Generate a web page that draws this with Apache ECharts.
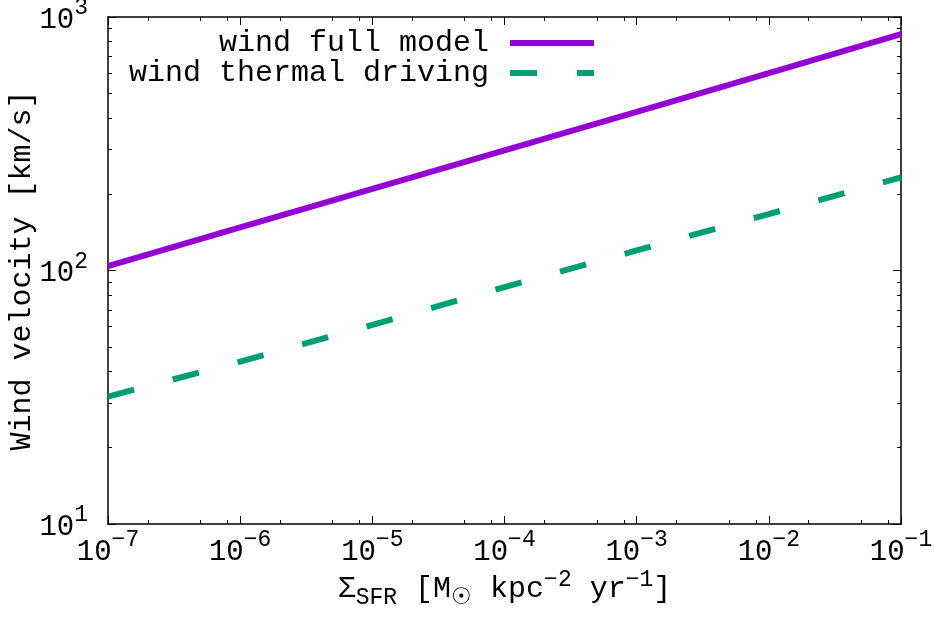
<!DOCTYPE html>
<html>
<head>
<meta charset="utf-8">
<script src="https://cdn.jsdelivr.net/npm/echarts@6/dist/echarts.min.js"></script>
<style>
html, body { margin: 0; padding: 0; background: #fff; }
#main { width: 934px; height: 625px; }
</style>
</head>
<body>
<div id="main"></div>
<script>
// data
var sfr = [1e-7, 1e-6, 1e-5, 1e-4, 1e-3, 1e-2, 1e-1];
var windFull = [104, 148, 210, 298, 422, 600, 855];
var windThermal = [31.8, 43.7, 61, 86, 120, 167, 233];
var seriesNames = ['wind full model', 'wind thermal driving'];

// tick values
var xMinorTicks = [2e-7, 5e-7, 8e-7, 2e-6, 5e-6, 8e-6, 2e-5, 5e-5, 8e-5,
                   2e-4, 5e-4, 8e-4, 2e-3, 5e-3, 8e-3, 2e-2, 5e-2, 8e-2];
var yMinorTicks = [20, 30, 40, 50, 60, 70, 80, 90, 200, 300, 400, 500, 600, 700, 800, 900];
var xRange = [1e-7, 1e-1];
var yRange = [10, 1000];

var FONT = 'Liberation Mono';
var black = '#000';

var powRich = {
    b: { fontFamily: FONT, fontSize: 29, lineHeight: 30, padding: [6, 0, 0, 0], color: black, verticalAlign: 'middle' },
    s: { fontFamily: FONT, fontSize: 23, lineHeight: 30, padding: [0, 0, 18, 0], color: black, verticalAlign: 'middle' }
};

var nameRich = {
    b: { fontFamily: FONT, fontSize: 30, lineHeight: 30, padding: [9, 0, 9, 0], color: black, verticalAlign: 'middle' },
    sup: { fontFamily: FONT, fontSize: 23, lineHeight: 30, padding: [0, 0, 18, 0], color: black, verticalAlign: 'middle' },
    sub: { fontFamily: FONT, fontSize: 23, lineHeight: 30, padding: [18, 0, 0, 0], color: black, verticalAlign: 'middle' }
};

function powerLabel(value) {
    var e = Math.round(Math.log10(value));
    return '{b|10}{s|' + String(e).replace('-', '\u2212') + '}';
}

function logPairs(ys) {
    return sfr.map(function (x, i) { return [x, ys[i]]; });
}

// main log axis: frame line, major ticks, labels
function majorAxis(position, range, extra) {
    var ax = {
        type: 'log',
        position: position,
        min: range[0],
        max: range[1],
        splitNumber: 6,
        axisLine: { show: true, lineStyle: { color: black, width: 1.5 } },
        axisTick: { show: true, inside: true, length: 8, lineStyle: { color: black, width: 1 } },
        axisLabel: { show: false },
        splitLine: { show: false },
        minorTick: { show: false }
    };
    return Object.assign(ax, extra || {});
}

// overlay value axis in log10 space carrying only the short minor ticks
function minorAxis(position, range, ticks) {
    return {
        type: 'value',
        position: position,
        min: Math.log10(range[0]),
        max: Math.log10(range[1]),
        axisLine: { show: false },
        axisTick: { show: true, inside: true, length: 4, lineStyle: { color: black, width: 1 },
                    customValues: ticks.map(function (v) { return Math.log10(v); }) },
        axisLabel: { show: false },
        splitLine: { show: false }
    };
}

var myChart = echarts.init(document.getElementById('main'));

var option = {
    animation: false,
    backgroundColor: '#fff',
    grid: { left: 108, right: 33, top: 17, bottom: 101, containLabel: false, outerBoundsMode: 'none' },
    legend: {
        data: seriesNames,
        orient: 'vertical',
        align: 'right',
        right: 337,
        top: 28,
        padding: 0,
        itemWidth: 84,
        itemHeight: 14,
        itemGap: 0,
        selectedMode: false,
        itemStyle: { opacity: 0 },
        lineStyle: { width: 6, cap: 'butt' },
        textStyle: { fontFamily: FONT, fontSize: 30, lineHeight: 29, color: black, padding: [0, 16, 0, 0] }
    },
    xAxis: [
        majorAxis('bottom', xRange, {
            axisLabel: { show: true, margin: 10, formatter: powerLabel, rich: powRich },
            name: '{b|\u03A3}{sub|SFR}{b| [M}{sub|\u2609}{b| kpc}{sup|\u22122}{b| yr}{sup|\u22121}{b|]}',
            nameLocation: 'middle',
            nameGap: 50,
            nameMoveOverlap: false,
            nameTextStyle: { rich: nameRich }
        }),
        minorAxis('bottom', xRange, xMinorTicks),
        majorAxis('top', xRange),
        minorAxis('top', xRange, xMinorTicks)
    ],
    yAxis: [
        majorAxis('left', yRange, {
            splitNumber: 2,
            axisLabel: { show: true, margin: 20, formatter: powerLabel, rich: powRich },
            name: 'Wind velocity [km/s]',
            nameLocation: 'middle',
            nameGap: 71,
            nameMoveOverlap: false,
            nameTextStyle: { fontFamily: FONT, fontSize: 30, color: black }
        }),
        minorAxis('left', yRange, yMinorTicks),
        majorAxis('right', yRange, { splitNumber: 2 }),
        minorAxis('right', yRange, yMinorTicks)
    ],
    series: [
        {
            name: seriesNames[0],
            type: 'line',
            xAxisIndex: 0,
            yAxisIndex: 0,
            data: logPairs(windFull),
            symbol: 'none',
            itemStyle: { color: '#9400d3' },
            lineStyle: { color: '#9400d3', width: 6, cap: 'butt' }
        },
        {
            name: seriesNames[1],
            type: 'line',
            xAxisIndex: 0,
            yAxisIndex: 0,
            data: logPairs(windThermal),
            symbol: 'none',
            itemStyle: { color: '#009e73' },
            lineStyle: { color: '#009e73', width: 6, type: [27, 40], cap: 'butt' }
        }
    ]
};

myChart.setOption(option);
</script>
</body>
</html>
